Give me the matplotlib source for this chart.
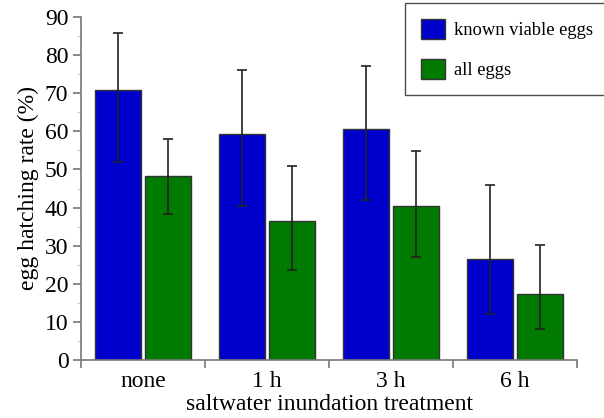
import numpy as np
import matplotlib
matplotlib.use('Agg')
import matplotlib.pyplot as plt
from matplotlib.ticker import MultipleLocator, FixedLocator

treatments = ['none', '1 h', '3 h', '6 h']
viable = [70.9, 59.3, 60.5, 26.6]
viable_lo = [52.0, 40.5, 42.0, 12.2]
viable_hi = [85.7, 76.2, 77.1, 45.9]
all_eggs = [48.2, 36.4, 40.3, 17.3]
all_lo = [38.3, 23.6, 26.9, 8.2]
all_hi = [58.1, 50.9, 54.9, 30.2]

plt.rcParams['font.family'] = ['Liberation Serif', 'DejaVu Serif']

fig = plt.figure(figsize=(6.04, 4.18), dpi=100)
ax = fig.add_axes([81/604, 1-360/418, (577-81)/604, (360-17)/418])

x = np.arange(len(treatments))
w = 0.37
err_kw = dict(ecolor='#222222', elinewidth=1.2, capsize=3.8, capthick=1.2)
v = np.array(viable)
a = np.array(all_eggs)
ax.bar(x - 0.2, v, w, color='#0000cc', edgecolor='#333333', linewidth=1.0,
       yerr=[v - np.array(viable_lo), np.array(viable_hi) - v], error_kw=err_kw,
       label='known viable eggs')
ax.bar(x + 0.2, a, w, color='#007a00', edgecolor='#333333', linewidth=1.0,
       yerr=[a - np.array(all_lo), np.array(all_hi) - a], error_kw=err_kw,
       label='all eggs')

ax.set_xlim(-0.5, 3.5)
ax.set_ylim(0, 90)
for s in ['top', 'right']:
    ax.spines[s].set_visible(False)
for s in ['left', 'bottom']:
    ax.spines[s].set_color('#777777')
    ax.spines[s].set_linewidth(1.2)

ax.yaxis.set_major_locator(MultipleLocator(10))
ax.yaxis.set_minor_locator(MultipleLocator(5))
ax.tick_params(axis='y', which='major', length=6, width=1.2, color='#777777',
               labelsize=17, pad=3)
ax.tick_params(axis='y', which='minor', length=3, width=0.8, color='#cccccc')

ax.set_xticks(x)
ax.set_xticklabels(treatments)
ax.xaxis.set_minor_locator(FixedLocator([-0.5, 0.5, 1.5, 2.5, 3.5]))
ax.tick_params(axis='x', which='major', length=0, labelsize=17, pad=8)
ax.tick_params(axis='x', which='minor', length=6, width=1.2, color='#777777')

ax.set_ylabel('egg hatching rate (%)', fontsize=17, labelpad=4)
ax.set_xlabel('saltwater inundation treatment', fontsize=17, labelpad=1)

leg = fig.legend(loc='upper left', bbox_to_anchor=(405/604, 1-3/418),
                 borderaxespad=0, fontsize=13.3, fancybox=False, frameon=True,
                 handlelength=1.33, handleheight=1.33, handletextpad=0.45,
                 labelspacing=1.05, borderpad=0.85)
leg.get_frame().set_edgecolor('#222222')
leg.get_frame().set_linewidth(1.0)
for h in leg.legend_handles:
    h.set_edgecolor('#333333')

fig.savefig('out.png', dpi=100)
